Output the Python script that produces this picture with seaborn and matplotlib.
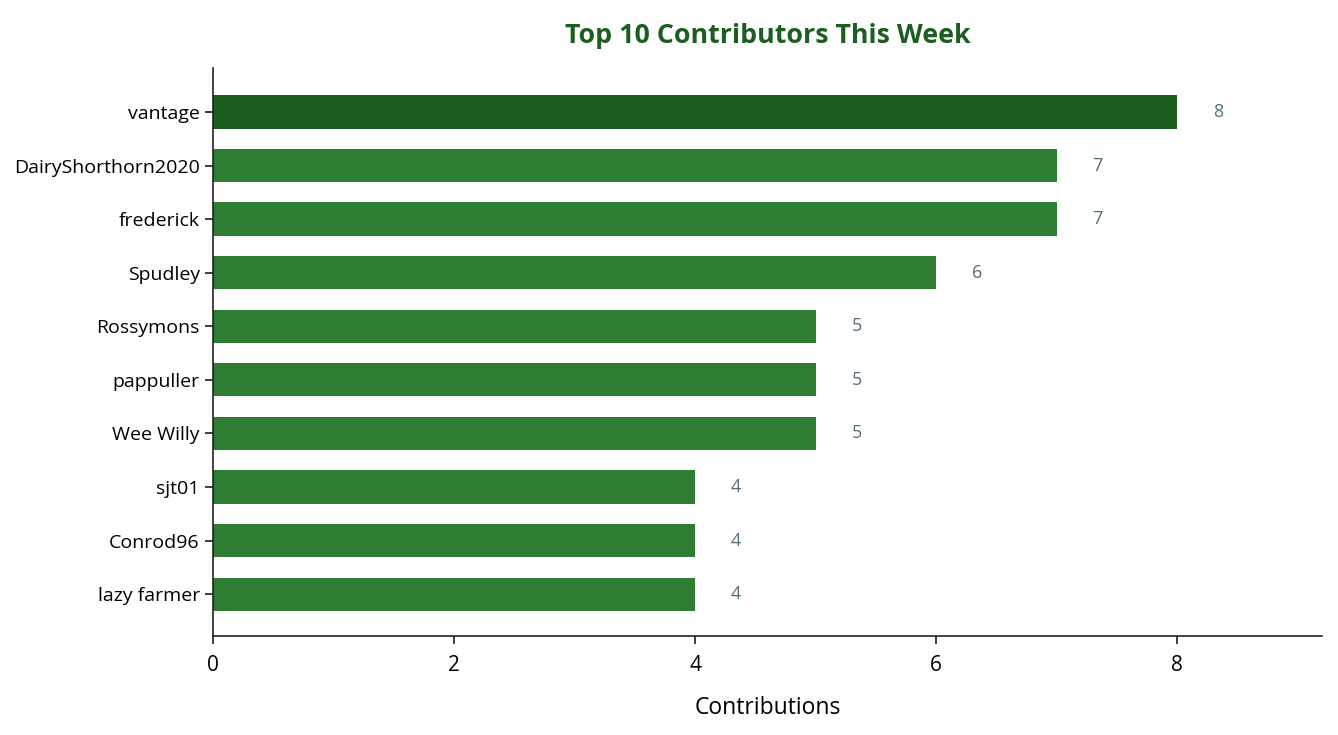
import matplotlib
matplotlib.use("Agg")
import matplotlib.pyplot as plt
import seaborn as sns
import pandas as pd

names = ["vantage", "DairyShorthorn2020", "frederick", "Spudley", "Rossymons",
         "pappuller", "Wee Willy", "sjt01", "Conrod96", "lazy farmer"]
contributions = [8, 7, 7, 6, 5, 5, 5, 4, 4, 4]
bar_colors = ["#1b5e20"] + ["#2e7d32"] * 9

sns.set_theme(style="ticks")
plt.rcParams['font.family'] = ['Open Sans', 'Noto Sans', 'DejaVu Sans']

df = pd.DataFrame({"name": names, "value": contributions})

fig = plt.figure(figsize=(13.38, 7.35), dpi=100)
ax = fig.add_axes([213/1338, 1 - 636/735, (1322-213)/1338, (636-68)/735])
sns.barplot(data=df, y="name", x="value", hue="name", palette=bar_colors,
            legend=False, width=0.62, ax=ax, saturation=1, linewidth=0)

for i, v in enumerate(contributions):
    ax.text(v + 0.34, i, str(v), va="center", ha="center", color="#546e7a", fontsize=13)

ax.set_xlim(0, 9.2)
ax.set_ylim(9.78, -0.82)
ax.set_xticks([0, 2, 4, 6, 8])
ax.set_ylabel("")
ax.set_xlabel("Contributions", fontsize=16.5, labelpad=14, color="black")
ax.tick_params(axis="x", labelsize=15, labelcolor="black", pad=8)
ax.tick_params(axis="y", labelsize=14, labelcolor="black")
ax.set_title("Top 10 Contributors This Week", fontsize=19.3, fontweight="bold",
             color="#1b5e20", pad=18)
sns.despine(ax=ax)
for s in ["left", "bottom"]:
    ax.spines[s].set_color("#222222")
    ax.spines[s].set_linewidth(1.2)

fig.savefig("out.png", dpi=100)
